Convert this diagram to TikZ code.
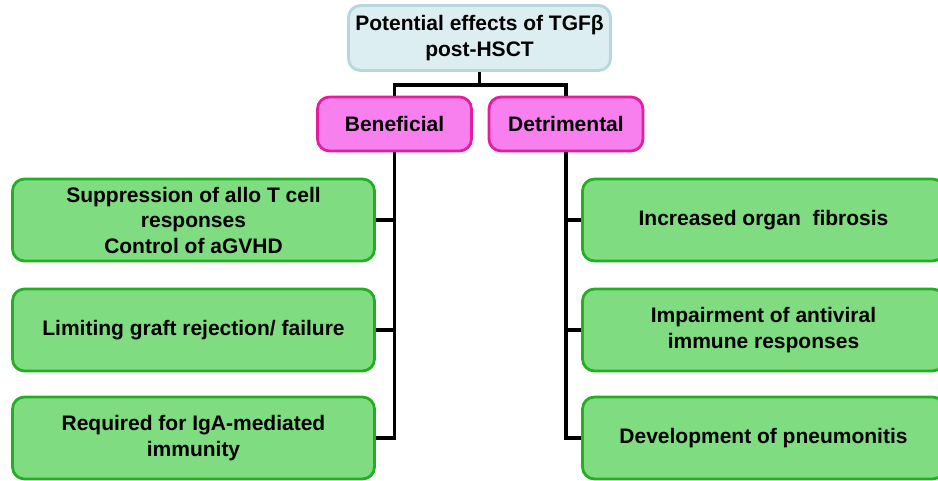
\documentclass[tikz,border=0pt]{standalone}
\usepackage{fontspec}
\setmainfont{Liberation Sans}
\usepackage{xcolor}
\usetikzlibrary{calc, positioning}
\definecolor{titlefill}{RGB}{220,238,241}
\definecolor{titledraw}{RGB}{180,216,222}
\definecolor{pinkfill}{RGB}{248,128,238}
\definecolor{pinkdraw}{RGB}{228,28,160}
\definecolor{greenfill}{RGB}{128,220,128}
\definecolor{greendraw}{RGB}{34,176,34}
\tikzset{
    effects/.style={
        x=1pt, y=-1pt,
        font=\bfseries\fontsize{21}{25.5}\selectfont,
        box/.style={draw, rectangle, rounded corners=12pt, line width=2.8pt, align=center, inner sep=0pt},
        title_box/.style={box, fill=titlefill, draw=titledraw, minimum width=262pt, minimum height=65pt},
        branch_box/.style={box, fill=pinkfill, draw=pinkdraw, minimum width=154pt, minimum height=54pt},
        effect_box/.style={box, fill=greenfill, draw=greendraw, minimum width=362pt, minimum height=82pt},
        link/.style={line width=3.5pt, black}
    }
}

\begin{document}
\begin{tikzpicture}[effects]
        \useasboundingbox (0,0) rectangle (938,481);
        \clip (0,0) rectangle (938,481);

        % Title
        \node[title_box] (title) at (479.5, 38) {Potential effects of TGFβ\\ post-HSCT};

        % Two branches
        \node[branch_box] (benefit) at (394.5, 124) {Beneficial};
        \node[branch_box] (harm) at (566, 124) {Detrimental};

        % Beneficial effects
        \node[effect_box] (ben1) at (193.5, 220) {Suppression of allo T cell\\ responses\\ Control of aGVHD};
        \node[effect_box] (ben2) at (193.5, 330) {Limiting graft rejection/ failure};
        \node[effect_box] (ben3) at (193.5, 438) {Required for IgA-mediated\\ immunity};

        % Detrimental effects
        \node[effect_box] (harm1) at (763.5, 220) {Increased organ~ fibrosis};
        \node[effect_box] (harm2) at (763.5, 330) {Impairment of antiviral\\ immune responses};
        \node[effect_box] (harm3) at (763.5, 438) {Development of pneumonitis};

        % Stem
        \draw[link] (title.south) -- ++(0,13) coordinate (split);
        \draw[link] (split) -| (benefit.north);
        \draw[link] (split) -| (harm.north);

        % Left trunk
        \draw[link] (benefit.south) |- (ben3.east);
        \draw[link] (benefit.south |- ben1.east) -- (ben1.east);
        \draw[link] (benefit.south |- ben2.east) -- (ben2.east);

        % Right trunk
        \draw[link] (harm.south) |- (harm3.west);
        \draw[link] (harm.south |- harm1.west) -- (harm1.west);
        \draw[link] (harm.south |- harm2.west) -- (harm2.west);

    \end{tikzpicture}
\end{document}
